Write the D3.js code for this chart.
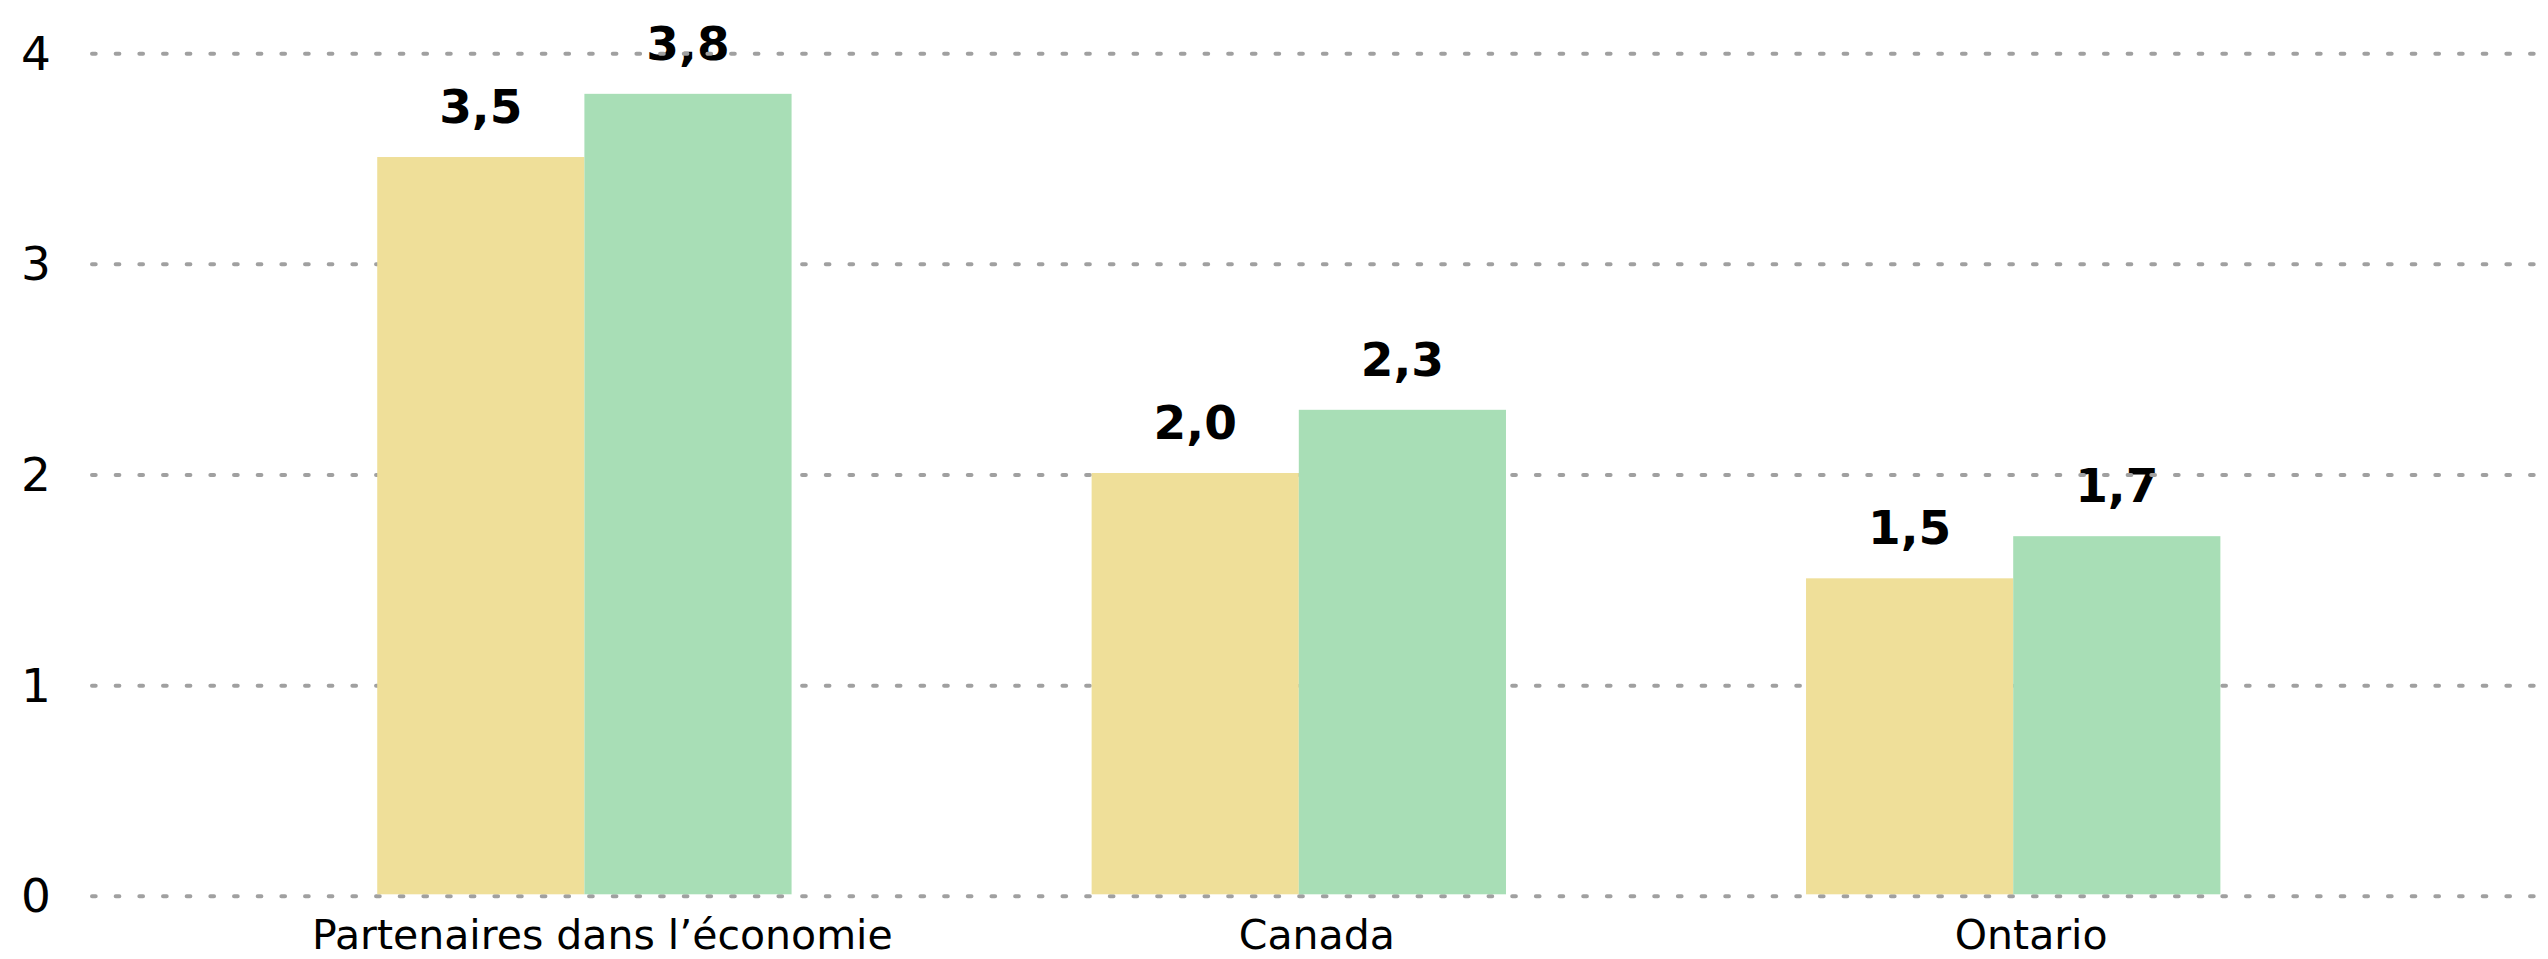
<!DOCTYPE html>
<html>
<head>
<meta charset="utf-8">
<script src="https://cdn.jsdelivr.net/npm/d3@7/dist/d3.min.js"></script>
<style>
  html, body { margin: 0; padding: 0; background: #ffffff; }
  svg { display: block; }
  text { font-family: "DejaVu Sans", Verdana, sans-serif; fill: #000; }
</style>
</head>
<body>
<svg id="chart" width="2548" height="959"></svg>
<script>
// ---- Data ----
const categories = ["Partenaires dans l’économie", "Canada", "Ontario"];
const seriesNames = ["Série 1", "Série 2"];
const series1 = [3.5, 2.0, 1.5];
const series2 = [3.8, 2.3, 1.7];
const yTicks = [0, 1, 2, 3, 4];
const valueLabels1 = ["3,5", "2,0", "1,5"];
const valueLabels2 = ["3,8", "2,3", "1,7"];

// ---- Layout ----
const W = 2548, H = 959;
const colors = ["#EFDF99", "#A8DEB6"];
const gridColor = "#A0A0A0";

const svg = d3.select("#chart");

const y = d3.scaleLinear().domain([0, 4]).range([894.3, 51.7]);

const x0 = d3.scaleBand()
  .domain(categories)
  .range([227.2, 2370.4])
  .paddingInner(0.42)
  .paddingOuter(0.21);

const x1 = d3.scaleBand()
  .domain(seriesNames)
  .range([0, x0.bandwidth()])
  .padding(0);

const rows = categories.map((c, i) => ({
  cat: c,
  vals: [
    { s: seriesNames[0], v: series1[i], lab: valueLabels1[i], col: colors[0] },
    { s: seriesNames[1], v: series2[i], lab: valueLabels2[i], col: colors[1] }
  ]
}));

// ---- Value labels (drawn beneath gridlines) ----
const labG = svg.append("g");
rows.forEach(r => {
  labG.selectAll(null)
    .data(r.vals)
    .join("text")
    .attr("x", d => x0(r.cat) + x1(d.s) + x1.bandwidth() / 2)
    .attr("y", d => y(d.v) - 34)
    .attr("text-anchor", "middle")
    .attr("font-size", 47)
    .attr("font-weight", "bold")
    .text(d => d.lab);
});

// ---- Gridlines ----
svg.append("g")
  .selectAll("line")
  .data(yTicks)
  .join("line")
  .attr("x1", 92)
  .attr("x2", W)
  .attr("y1", d => y(d) + 2)
  .attr("y2", d => y(d) + 2)
  .attr("stroke", gridColor)
  .attr("stroke-width", 4)
  .attr("stroke-linecap", "round")
  .attr("stroke-dasharray", "3.7 19.97");

// ---- Y axis labels ----
const yAxis = d3.axisLeft(y).tickValues(yTicks).tickSize(0).tickPadding(0).tickFormat(d3.format("d"));
const yAxG = svg.append("g").attr("transform", "translate(36,2)").call(yAxis);
yAxG.select(".domain").remove();
yAxG.selectAll("text")
  .attr("text-anchor", "middle")
  .attr("x", 0)
  .attr("dy", "0.33em")
  .attr("font-size", 47)
  .attr("font-family", "DejaVu Sans, Verdana, sans-serif")
  .attr("fill", "#000");

// ---- Bars ----
const barG = svg.append("g");
rows.forEach(r => {
  barG.selectAll(null)
    .data(r.vals)
    .join("rect")
    .attr("x", d => x0(r.cat) + x1(d.s))
    .attr("y", d => y(d.v))
    .attr("width", x1.bandwidth())
    .attr("height", d => y(0) - y(d.v))
    .attr("fill", d => d.col);
});

// ---- X axis labels ----
const xAxis = d3.axisBottom(x0).tickSize(0).tickPadding(0);
const xAxG = svg.append("g").attr("transform", "translate(18,0)").call(xAxis);
xAxG.select(".domain").remove();
xAxG.selectAll("text")
  .attr("y", 949)
  .attr("dy", 0)
  .attr("font-size", 41)
  .attr("font-family", "DejaVu Sans, Verdana, sans-serif")
  .attr("fill", "#000");
</script>
</body>
</html>
